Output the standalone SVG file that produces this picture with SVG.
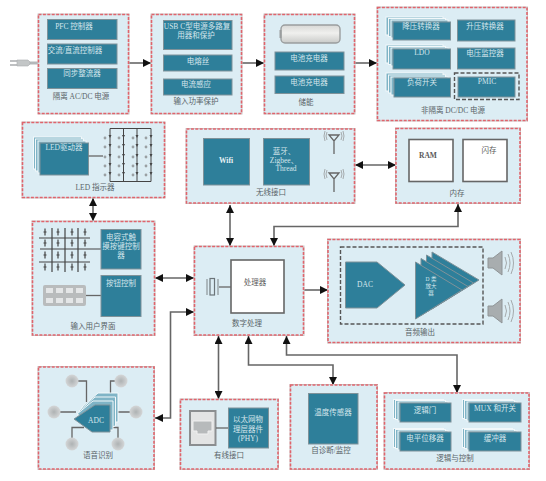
<svg xmlns="http://www.w3.org/2000/svg" width="546" height="481" viewBox="0 0 546 481">
<style>
text{font-family:"Liberation Serif","Noto Sans CJK SC",serif;font-size:7.500px;text-anchor:middle}
.p{fill:#dcedf4;stroke:#e0646c;stroke-width:1.6;stroke-dasharray:3 1.4}
.pu{fill:none;stroke:#c9c9c9;stroke-width:2}
.b{fill:#2e7f9a;stroke:#7f9299;stroke-width:1}
.s{fill:#7fb4c6;stroke:#f2f8fa;stroke-width:1}
.w{fill:#fff;stroke:#666;stroke-width:1.6}
.t{fill:#d5e6ec}
.l{fill:#5a6468}
.d{fill:#5a5a5a}
.c{fill:none;stroke:#666;stroke-width:1.6}
.k{fill:none;stroke:#666;stroke-width:1.3}
.dash{fill:none;stroke:#555;stroke-width:1.4;stroke-dasharray:4 2}
.a{fill:none;stroke:#a5aaac;stroke-width:1}
.sm{font-size:5.500px}
</style>
<defs>
<linearGradient id="bat" x1="0" y1="0" x2="0" y2="1"><stop offset="0" stop-color="#d8d8d6"/><stop offset=".45" stop-color="#f0f0ee"/><stop offset="1" stop-color="#c9cac8"/></linearGradient>
<radialGradient id="mg"><stop offset="0" stop-color="#aeb2b3"/><stop offset="1" stop-color="#d4d6d7"/></radialGradient>
<marker id="ah" viewBox="0 0 8 8" refX="8" refY="4" markerUnits="userSpaceOnUse" markerWidth="8" markerHeight="8" orient="auto-start-reverse"><path d="M0 0L8 4L0 8Z" fill="#111"/></marker>
<g id="ant"><path class="k" d="M-5 0H5L0 6ZM0 6V19"/><path class="a" d="M-7-3Q-9 1-7 5M7-3Q9 1 7 5M-9-4Q-11 1-9 6M9-4Q11 1 9 6"/></g>
<g id="spk"><path fill="#a8adaf" stroke="#8f9496" d="M0 7H5L14 0V24L5 17H0Z"/><path class="a" d="M17 6Q20 12 17 18M20 3Q24 12 20 21M23 1Q28 12 23 23"/></g>
<circle id="led" r="1.4" fill="#9aa0a3"/>
<path id="pl" d="M-1.500 0H1.500M0-3.500V3.500" stroke="#444" stroke-width="1.200"/>
<circle id="mic" r="6.500" fill="url(#mg)"/>
</defs>

<g id="connectors">
<path class="c" d="M128 63H151" marker-end="url(#ah)"/>
<path class="c" d="M241 63H264" marker-end="url(#ah)"/>
<path class="c" d="M354 63H377" marker-end="url(#ah)"/>
<path class="c" d="M93 198V221" marker-start="url(#ah)" marker-end="url(#ah)"/>
<path class="c" d="M230 205V246" marker-start="url(#ah)" marker-end="url(#ah)"/>
<path class="c" d="M355 165H396" marker-start="url(#ah)" marker-end="url(#ah)"/>
<path class="c" d="M274 246V226.500H458V204" marker-start="url(#ah)" marker-end="url(#ah)"/>
<path class="c" d="M155 278H194" marker-start="url(#ah)" marker-end="url(#ah)"/>
<path class="c" d="M303 290H328" marker-end="url(#ah)"/>
<path class="c" d="M194 312H170.500V418H155" marker-start="url(#ah)" marker-end="url(#ah)"/>
<path class="c" d="M218.500 336V399" marker-start="url(#ah)" marker-end="url(#ah)"/>
<path class="c" d="M248.500 336V365H333V385" marker-start="url(#ah)" marker-end="url(#ah)"/>
<path class="c" d="M286.500 336V355H457V393" marker-start="url(#ah)" marker-end="url(#ah)"/>
</g>

<g id="plug">
<path d="M28 63H38" stroke="#b5b8ba" stroke-width="3"/>
<path d="M17 60H28L30 62V64L28 66H17Z" fill="#c3c6c7" stroke="#a9acae" stroke-width=".6"/>
<path d="M10 61H17M10 65H17" stroke="#a9acae" stroke-width="1.4"/>
</g>

<g id="isolated-acdc">
<rect class="pu" x="38.500" y="14.500" width="90" height="99"/><rect class="p" x="38.500" y="14.500" width="90" height="99"/>
<rect class="b" x="47.500" y="19.500" width="69.500" height="20"/><text class="t" x="74" y="28.500">PFC 控制器</text>
<rect class="b" x="47.500" y="44" width="69.500" height="20"/><text class="t" x="75" y="53">交流/直流控制器</text>
<rect class="b" x="47.500" y="68.500" width="69.500" height="20"/><text class="t" x="82" y="76">同步整流器</text>
<text class="l" x="81" y="98.500">隔离 AC/DC 电源</text>
</g>

<g id="input-protection">
<rect class="pu" x="151.500" y="14.500" width="90" height="99"/><rect class="p" x="151.500" y="14.500" width="90" height="99"/>
<rect class="b" x="163.500" y="20.500" width="68.500" height="29"/><text class="t" x="197" y="28.500">USB C型电源多路复</text><text class="t" x="196" y="37.500">用器和保护</text>
<rect class="b" x="163.500" y="55" width="68.500" height="16"/><text class="t" x="198" y="64">电熔丝</text>
<rect class="b" x="163.500" y="79" width="68.500" height="16"/><text class="t" x="196" y="87">电流感应</text>
<text class="l" x="196" y="104">输入功率保护</text>
</g>

<g id="energy-storage">
<rect class="pu" x="264.500" y="14.500" width="90" height="99"/><rect class="p" x="264.500" y="14.500" width="90" height="99"/>
<rect x="281" y="25" width="59" height="18" rx="4" fill="url(#bat)" stroke="#9a9d9e" stroke-width="1.400"/>
<rect x="279.500" y="30" width="2" height="8" fill="#9a9d9e"/>
<rect class="b" x="275" y="52" width="69" height="18"/><text class="t" x="309" y="61">电池充电器</text>
<rect class="b" x="275" y="76" width="69" height="17.500"/><text class="t" x="309" y="85">电池充电器</text>
<text class="l" x="306" y="105">储能</text>
</g>

<g id="nonisolated-dcdc">
<rect class="pu" x="377.500" y="7.500" width="149.500" height="113"/><rect class="p" x="377.500" y="7.500" width="149.500" height="113"/>
<rect class="s" x="386" y="17" width="57" height="18"/><rect class="s" x="388.500" y="18.500" width="57" height="18"/><rect class="s" x="391" y="20" width="57" height="18"/>
<rect class="b" x="393" y="22" width="57.500" height="18"/><text class="t" x="421" y="29">降压转换器</text>
<rect class="b" x="457.500" y="20" width="57.500" height="21"/><text class="t" x="485" y="29">升压转换器</text>
<rect class="s" x="386" y="45" width="57" height="18"/><rect class="s" x="388.500" y="46.500" width="57" height="18"/><rect class="s" x="391" y="48" width="57" height="18"/>
<rect class="b" x="393" y="49" width="57.500" height="20"/><text class="t" x="422" y="55">LDO</text>
<rect class="b" x="457.500" y="48" width="57.500" height="21"/><text class="t" x="485" y="56">电压监控器</text>
<rect class="s" x="386" y="73" width="57" height="18"/><rect class="s" x="388.500" y="75" width="57" height="18"/><rect class="s" x="391" y="77" width="57" height="18"/>
<rect class="b" x="394" y="78" width="56.500" height="19"/><text class="t" x="422" y="85">负荷开关</text>
<rect class="dash" x="454.500" y="73" width="64.500" height="26.500"/>
<rect class="b" x="458" y="77" width="57" height="20"/><text class="t" x="487" y="84">PMIC</text>
<text class="l" x="453" y="113">非隔离 DC/DC 电源</text>
</g>

<g id="led-indicator">
<rect class="pu" x="22.500" y="122.500" width="142" height="75"/><rect class="p" x="22.500" y="122.500" width="142" height="75"/>
<rect class="s" x="33.500" y="137" width="48" height="32"/><rect class="s" x="35.500" y="139" width="48" height="32"/><rect class="s" x="38" y="141" width="48" height="32"/>
<rect class="b" x="40" y="143" width="48.500" height="32"/><text class="t" x="64" y="150">LED驱动器</text>
<path class="k" d="M88.500 156H103"/>
<path d="M110 128.500H151M110 181.500H151M110 128.500V181.500M123.500 128.500V181.500M137 128.500V181.500M151 128.500V181.500" fill="none" stroke="#444" stroke-width="1"/>
<g id="led-array" fill="#444">
<use href="#led" x="105" y="138"/><use href="#led" x="105" y="147"/><use href="#led" x="105" y="157"/><use href="#led" x="105" y="166"/><use href="#led" x="105" y="175"/>
<use href="#led" x="119" y="138"/><use href="#led" x="119" y="147"/><use href="#led" x="119" y="157"/><use href="#led" x="119" y="166"/><use href="#led" x="119" y="175"/>
<use href="#led" x="133" y="138"/><use href="#led" x="133" y="147"/><use href="#led" x="133" y="157"/><use href="#led" x="133" y="166"/><use href="#led" x="133" y="175"/>
<use href="#led" x="146" y="138"/><use href="#led" x="146" y="147"/><use href="#led" x="146" y="157"/><use href="#led" x="146" y="166"/><use href="#led" x="146" y="175"/>
<path d="M108.500 135h3l-1.500 3zM108.500 144h3l-1.500 3zM108.500 154h3l-1.500 3zM108.500 163h3l-1.500 3zM108.500 172h3l-1.500 3zM122 135h3l-1.500 3zM122 144h3l-1.500 3zM122 154h3l-1.500 3zM122 163h3l-1.500 3zM122 172h3l-1.500 3zM135.500 135h3l-1.500 3zM135.500 144h3l-1.500 3zM135.500 154h3l-1.500 3zM135.500 163h3l-1.500 3zM135.500 172h3l-1.500 3zM149.500 135h3l-1.500 3zM149.500 144h3l-1.500 3zM149.500 154h3l-1.500 3zM149.500 163h3l-1.500 3zM149.500 172h3l-1.500 3z"/>
</g>
<text class="l" x="95" y="190">LED 指示器</text>
</g>

<g id="wireless">
<rect class="pu" x="186.500" y="129" width="168" height="74"/><rect class="p" x="186.500" y="129" width="168" height="74"/>
<rect class="b" x="203.500" y="138.500" width="46" height="46.500"/><text x="226" y="163" fill="#e9f3f6" font-weight="bold">Wifi</text>
<rect class="b" x="263.500" y="138.500" width="46" height="46.500"/><text class="t" x="284" y="154">蓝牙、</text><text class="t" x="284" y="163">Zigbee、</text><text class="t" x="286" y="171">Thread</text>
<use href="#ant" x="334" y="135"/><use href="#ant" x="334" y="173"/>
<text class="l" x="271" y="195">无线接口</text>
</g>

<g id="memory">
<rect class="pu" x="396" y="128.500" width="124" height="74.500"/><rect class="p" x="396" y="128.500" width="124" height="74.500"/>
<rect class="w" x="409" y="139.500" width="44" height="42"/><text x="428" y="158" fill="#5a5a5a" font-weight="bold">RAM</text>
<rect class="w" x="463" y="139.500" width="44" height="42"/><text class="d" x="489" y="153">闪存</text>
<text class="l" x="457" y="196">内存</text>
</g>

<g id="user-input">
<rect class="pu" x="32.500" y="221.500" width="122" height="113.500"/><rect class="p" x="32.500" y="221.500" width="122" height="113.500"/>
<path d="M39 238H90M40 249H101M39 262H90M52 228V272M65 228V272M78 228V272" fill="none" stroke="#444" stroke-width="1.200"/>
<use href="#pl" x="45" y="232"/><use href="#pl" x="58" y="232"/><use href="#pl" x="72" y="232"/><use href="#pl" x="85" y="232"/>
<use href="#pl" x="45" y="243"/><use href="#pl" x="58" y="243"/><use href="#pl" x="72" y="243"/><use href="#pl" x="85" y="243"/>
<use href="#pl" x="45" y="255"/><use href="#pl" x="58" y="255"/><use href="#pl" x="72" y="255"/><use href="#pl" x="85" y="255"/>
<use href="#pl" x="45" y="267"/><use href="#pl" x="58" y="267"/><use href="#pl" x="72" y="267"/><use href="#pl" x="85" y="267"/>
<rect class="b" x="101" y="229.500" width="40" height="39.500"/><text class="t" x="121" y="240">电容式触</text><text class="t" x="121" y="249">摸按键控制</text><text class="t" x="121" y="258">器</text>
<rect x="43" y="285" width="43" height="21" rx="2" fill="#b9bcbd"/>
<path d="M46 288h7v5h-7zM56 288h7v5h-7zM66 288h7v5h-7zM76 288h7v5h-7zM46 298h7v5h-7zM56 298h7v5h-7zM66 298h7v5h-7zM76 298h7v5h-7z" fill="#e4e6e7"/>
<path class="k" d="M86 295.500H101"/>
<rect class="b" x="101" y="275.500" width="40" height="41"/><text class="t" x="121" y="285.500">按钮控制</text>
<text class="l" x="93" y="329">输入用户界面</text>
</g>

<g id="digital-processing">
<rect class="pu" x="194.500" y="246.500" width="109" height="88.500"/><rect class="p" x="194.500" y="246.500" width="109" height="88.500"/>
<rect class="w" x="231" y="260" width="53" height="53"/><text class="d" x="255" y="285">处理器</text>
<rect x="210" y="278.500" width="4.500" height="16.500" fill="none" stroke="#6b7478" stroke-width="1.200"/>
<path d="M207 279V295M218 279V295" stroke="#8d9598" stroke-width="1.200"/>
<path class="k" d="M219 287H231"/>
<text class="l" x="247" y="326">数字处理</text>
</g>

<g id="audio-output">
<rect class="pu" x="328" y="239.500" width="192" height="103"/><rect class="p" x="328" y="239.500" width="192" height="103"/>
<rect class="dash" x="340.500" y="247" width="142.500" height="77"/>
<path class="b" d="M345.500 262H377L405 285L377 308H345.500Z"/><text class="t" x="365" y="287">DAC</text>
<path class="b" stroke="#dcedf4" d="M432 252L432 309L479 280Z"/>
<path class="b" stroke="#dcedf4" d="M426.500 255L426.500 312L473.500 283Z"/>
<path class="b" stroke="#dcedf4" d="M421 258.500L421 315.500L468 286.500Z"/>
<path class="b" stroke="#dcedf4" d="M415.500 262L415.500 319L462 290Z"/>
<text class="t sm" x="431" y="281">D 类</text><text class="t sm" x="431" y="288">放大</text><text class="t sm" x="431" y="294.500">器</text>
<use href="#spk" x="488" y="251"/><use href="#spk" x="488" y="299"/>
<text class="l" x="420" y="335">音频输出</text>
</g>

<g id="speech-recognition">
<rect class="pu" x="38.500" y="367" width="115.500" height="102"/><rect class="p" x="38.500" y="367" width="115.500" height="102"/>
<path class="k" d="M72 381H86.500V402M121 381H110.500V396M54 412H76M136 412H116M72 444V427.500H84M118 444V427.500H110"/>
<use href="#mic" x="72" y="381"/><use href="#mic" x="121" y="381"/><use href="#mic" x="54" y="412"/><use href="#mic" x="136" y="412"/><use href="#mic" x="72" y="444"/><use href="#mic" x="118" y="444"/>
<path class="s" d="M82 407L98 393H118V422L112 422L82 410Z"/>
<path class="s" d="M79 411L95 397H115.500V426L106 428Z"/>
<path class="s" d="M77 414L93 401H113V430L104 430Z"/>
<path class="b" stroke="#dcedf4" d="M74 419L95 405H110V432H92Z"/>
<text class="t" x="96" y="423">ADC</text>
<text class="l" x="98" y="458">语音识别</text>
</g>

<g id="wired-interface">
<rect class="pu" x="180.500" y="399.500" width="97.500" height="69.500"/><rect class="p" x="180.500" y="399.500" width="97.500" height="69.500"/>
<rect x="190" y="411" width="25.500" height="34" fill="#e3e4e4" stroke="#8b8e90" stroke-width="2"/>
<path d="M193 421H212V431H208V434H197V431H193Z" fill="#b7babb" stroke="#f0f0f0"/>
<path class="k" d="M216 428H228"/>
<rect class="b" x="228.500" y="408" width="40" height="40"/><text class="t" x="248" y="422">以太网物</text><text class="t" x="248" y="432">理层器件</text><text class="t" x="248" y="441">(PHY)</text>
<text class="l" x="229" y="458">有线接口</text>
</g>

<g id="self-diagnostics">
<rect class="pu" x="290.500" y="385" width="86.500" height="84"/><rect class="p" x="290.500" y="385" width="86.500" height="84"/>
<rect class="b" x="308.500" y="393.500" width="49.500" height="50.500"/><text class="t" x="333" y="415">温度传感器</text>
<text class="l" x="331" y="453">自诊断/监控</text>
</g>

<g id="logic-control">
<rect class="pu" x="384.500" y="393" width="144.500" height="76"/><rect class="p" x="384.500" y="393" width="144.500" height="76"/>
<rect class="s" x="393.500" y="399.500" width="50" height="19"/><rect class="s" x="395.500" y="400.500" width="50" height="19"/><rect class="s" x="398" y="402" width="50" height="19"/>
<rect class="b" x="400" y="403" width="51" height="19"/><text class="t" x="425" y="413">逻辑门</text>
<rect class="s" x="462.500" y="399.500" width="50" height="19"/><rect class="s" x="464.500" y="400.500" width="50" height="19"/><rect class="s" x="467" y="402" width="50" height="19"/>
<rect class="b" x="469" y="403" width="52" height="19"/><text class="t" x="495" y="411">MUX 和开关</text>
<rect class="s" x="393.500" y="428.500" width="50" height="19"/><rect class="s" x="395.500" y="429.500" width="50" height="19"/><rect class="s" x="398" y="431" width="50" height="19"/>
<rect class="b" x="400" y="432" width="51" height="19"/><text class="t" x="425" y="441">电平位移器</text>
<rect class="s" x="462.500" y="428.500" width="50" height="19"/><rect class="s" x="464.500" y="429.500" width="50" height="19"/><rect class="s" x="467" y="431" width="50" height="19"/>
<rect class="b" x="469" y="432" width="52" height="19"/><text class="t" x="495" y="441">缓冲器</text>
<text class="l" x="455" y="461">逻辑与控制</text>
</g>
</svg>
